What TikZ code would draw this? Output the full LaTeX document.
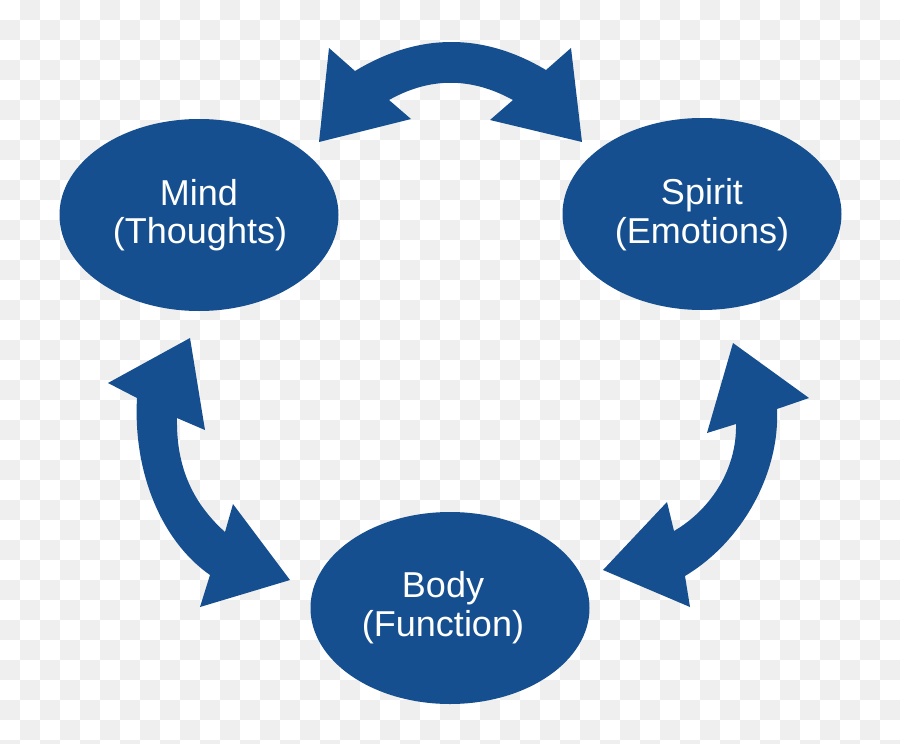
\documentclass[tikz,border=0pt]{standalone}
\usepackage{fontspec}
\setmainfont{Liberation Sans}
\usetikzlibrary{shapes.geometric}
\definecolor{mbblue}{HTML}{164F8F}
\definecolor{checkgray}{HTML}{EFEFEF}
\begin{document}
\begin{tikzpicture}[x=1pt,y=-1pt,
  bubble/.style={ellipse, fill=mbblue, minimum width=279pt, minimum height=192pt, inner sep=0pt},
  bubbletext/.style={text=white, font=\fontsize{36}{39}\selectfont, anchor=base, inner sep=0pt},
  arrowshape/.style={fill=mbblue}]
\useasboundingbox (0,0) rectangle (900,744);
\begin{scope}
\clip (0,0) rectangle (900,744);
\fill[white] (0,0) rectangle (900,744);
\foreach \i in {0,...,44}{
  \foreach \j in {0,...,37}{
    \pgfmathparse{int(mod(\i+\j,2))}
    \ifnum\pgfmathresult=1 \fill[checkgray] (\i*20,\j*20) rectangle ++(20,20); \fi
  }
}
\end{scope}
% ellipses
\node[bubble] (mind) at (199,215) {};
\node[bubble] (spirit) at (702,214) {};
\node[bubble] (body) at (450,608) {};
% texts
\node[bubbletext] (mindA) at (199,205) {Mind};
\node[bubbletext] (mindB) at (200,243) {(Thoughts)};
\node[bubbletext] (spiritA) at (702,204) {Spirit};
\node[bubbletext] (spiritB) at (702,243) {(Emotions)};
\node[bubbletext] (bodyA) at (443,597) {Body};
\node[bubbletext] (bodyB) at (443,636) {(Function)};
% top double arrow (Mind <-> Spirit)
\fill[arrowshape] (319,142) -- (329,48) -- (355,71)
  .. controls (418,33) and (482,32) .. (546,70)
  -- (571,48) -- (582,142) -- (490,120) -- (513,100)
  .. controls (471,77) and (430,77) .. (389,100)
  -- (411,119) -- cycle;
% left double arrow (Mind <-> Body)
\fill[arrowshape] (190,338) -- (205,430) -- (177,418)
  .. controls (176,470) and (195,505) .. (225,532)
  -- (233,504) -- (290,580) -- (200,607) -- (210,575)
  .. controls (160,540) and (133,470) .. (137,398)
  -- (108,383) -- cycle;
% right double arrow (Spirit <-> Body)
\fill[arrowshape] (733,343) -- (809,398) -- (777,409)
  .. controls (780,470) and (745,540) .. (685,576)
  -- (690,607) -- (603,570) -- (667,502) -- (674,531)
  .. controls (710,510) and (737,470) .. (736,424)
  -- (707,433) -- cycle;
\end{tikzpicture}
\end{document}
